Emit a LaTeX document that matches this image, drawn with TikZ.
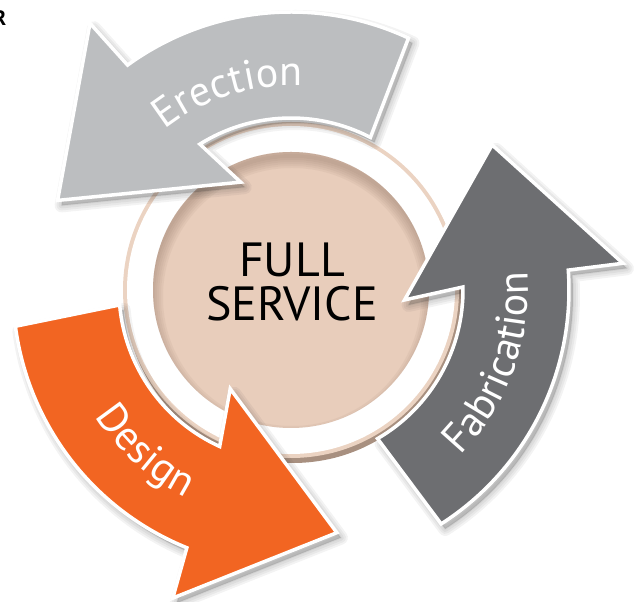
\documentclass[tikz,border=0pt]{standalone}
\usepackage{fontspec}
\setmainfont{PT Sans}
\usetikzlibrary{decorations.text}
\definecolor{lgray}{HTML}{BCBEC0}
\definecolor{dgray}{HTML}{6D6E71}
\definecolor{orng}{HTML}{F26522}
\definecolor{tanfill}{HTML}{E8CDBB}
\definecolor{tanrim}{HTML}{EBD3C2}
\definecolor{tanshadow}{HTML}{A89080}
\definecolor{innershade}{HTML}{8C7060}
\begin{document}
\begin{tikzpicture}[x=1pt,y=1pt,
  arrowshape/.style n args={9}{insert path={(#1:172) arc[start angle=#1, end angle=#2, radius=172] -- (#4:#5) -- (#8:#9) -- (#6:#7) -- (#3:278) arc[start angle=#3, end angle=#1+2.5, radius=278] -- cycle}},
  arrowbody/.style={draw=white, line width=3.5, line join=miter},
  softshadow/.style={fill=black!80, draw=black!80, opacity=0.06, line join=round},
  bandtext/.style={decorate, decoration={text along path, text align=center, text color=white, text={#1}}}
]
\useasboundingbox (0,0) rectangle (635,602);
\coordinate (C) at (291,312);

% corner letter (cropped at the page edge)
\node[font=\bfseries\fontsize{21}{21}\selectfont, anchor=east, inner sep=0] (corner) at (6.5,584) {R};

% ring
\fill[tanshadow] (293,307) circle (168);
\fill[tanrim] (291,312) circle (168);
\fill[white] (291,312) circle (164);
\fill[tanfill] (291,312) circle (138);
\begin{scope}
  \clip (291,312) circle (138);
  \foreach \w in {4,8,12,16,20,24}{
    \draw[innershade, opacity=0.08, line width=\w] (292,305) circle (141);
  }
\end{scope}

\node[font=\fontsize{48}{44}\selectfont, align=center, inner sep=0] (fs) at (292,320) {FULL\\SERVICE};

\begin{scope}[shift={(C)}]
  % shadows
  \foreach \w in {14,10,6,2}{
    \filldraw[softshadow, line width=\w, xshift=4, yshift=-5, arrowshape={62.5}{122}{126}{115}{119}{127}{334}{159}{250}];
    \filldraw[softshadow, line width=\w, xshift=4, yshift=-5, arrowshape={185}{245.5}{248}{238.4}{116}{249}{330}{280.7}{247}];
    \filldraw[softshadow, line width=\w, xshift=4, yshift=-5, arrowshape={-59.8}{1}{4.1}{-5}{114}{4.6}{333}{35.8}{248}];
  }
  % Erection
  \filldraw[arrowbody, fill=lgray, arrowshape={62.5}{122}{126}{115}{119}{127}{334}{159}{250}];
  % Design
  \filldraw[arrowbody, fill=orng, arrowshape={185}{245.5}{248}{238.4}{116}{249}{330}{280.7}{247}];
  % Fabrication
  \filldraw[arrowbody, fill=dgray, arrowshape={-59.8}{1}{4.1}{-5}{114}{4.6}{333}{35.8}{248}];

  % labels
  \path[bandtext={|\fontsize{42}{42}\selectfont|Erection}] (150:204) arc[start angle=150, end angle=65, radius=204];
  \path[bandtext={|\fontsize{42}{42}\selectfont|Design}] (190:233) arc[start angle=190, end angle=266, radius=233];
  \path[bandtext={|\fontsize{42}{42}\selectfont|Fabrication}] (-75:237) arc[start angle=-75, end angle=35, radius=237];
\end{scope}
\end{tikzpicture}
\end{document}
